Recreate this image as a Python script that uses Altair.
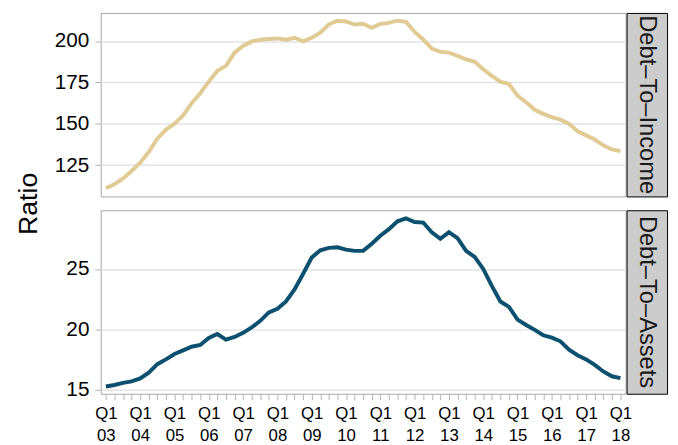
import altair as alt
import pandas as pd

# Quarter index: 0 = Q1 2003 ... 60 = Q1 2018
quarters = list(range(61))

debt_to_income = [
    111, 113.5, 117, 121.5, 126.5, 133, 141, 146.5, 150, 155,
    162.5, 168.5, 175.5, 182, 185, 193, 197, 199.8, 200.8, 201.3,
    201.6, 200.8, 202, 199.8, 202, 205, 210, 212.3, 211.8, 210,
    210.5, 208, 210.3, 211, 212.3, 211.6, 205.5, 201, 195.5, 193.5,
    193, 191, 189, 187.5, 183, 179, 175.5, 174, 167, 163,
    158.5, 156, 154, 152.5, 150, 145.5, 143, 140.5, 137, 134.5,
    133.5,
]

debt_to_assets = [
    15.25, 15.38, 15.55, 15.68, 15.92, 16.4, 17.1, 17.5, 17.95, 18.25,
    18.55, 18.7, 19.28, 19.6, 19.14, 19.36, 19.7, 20.15, 20.7, 21.4,
    21.7, 22.3, 23.3, 24.6, 25.95, 26.55, 26.75, 26.8, 26.6, 26.5,
    26.5, 27.1, 27.75, 28.3, 28.95, 29.2, 28.9, 28.85, 28.05, 27.5,
    28.05, 27.55, 26.5, 26.0, 25.0, 23.6, 22.3, 21.85, 20.8, 20.35,
    19.95, 19.5, 19.3, 19.0, 18.3, 17.85, 17.5, 17.05, 16.5, 16.1,
    15.95,
]

year_labels = ["03", "04", "05", "06", "07", "08", "09", "10",
               "11", "12", "13", "14", "15", "16", "17", "18"]

panel_labels = ["Debt\u2013To\u2013Income", "Debt\u2013To\u2013Assets"]
income_ticks = [125, 150, 175, 200]
assets_ticks = [15, 20, 25]

FONT = "Liberation Sans"
TAN = "#E1CB94"
TEAL = "#0B506E"
W, H = 532, 186

df_inc = pd.DataFrame({"q": quarters, "v": debt_to_income})
df_ast = pd.DataFrame({"q": quarters, "v": debt_to_assets})

x_scale = alt.Scale(domain=[-0.6, 60.6], nice=False, zero=False)
year_arr = "[" + ",".join("'%s'" % y for y in year_labels) + "]"
label_expr = "datum.value % 4 == 0 ? ['Q1', " + year_arr + "[datum.value / 4]] : ''"

panel_view = alt.ViewBackground(stroke="#a6a6a6", strokeWidth=1, fill="white")
strip_view = alt.ViewBackground(stroke="black", strokeWidth=1, fill="#cccccc")


def y_axis(values, **kw):
    return alt.Axis(
        values=values, domain=False, grid=True, gridColor="#e3e3e3", gridWidth=1.5,
        tickColor="#b3b3b3", tickSize=6, labelPadding=6, labelFont=FONT,
        labelFontSize=21, labelColor="black", **kw
    )


top = alt.Chart(df_inc).mark_line(color=TAN, strokeWidth=4).encode(
    x=alt.X("q:Q", scale=x_scale, axis=None),
    y=alt.Y(
        "v:Q",
        scale=alt.Scale(domain=[106.1, 217], nice=False, zero=False),
        axis=y_axis(
            income_ticks, title="Ratio", titleFont=FONT, titleFontSize=27,
            titleFontWeight="normal", titleColor="black", titleX=-65, titleY=193,
            titleBaseline="alphabetic", titleAngle=270,
        ),
    ),
).properties(width=W, height=H, view=panel_view)

bottom = alt.Chart(df_ast).mark_line(color=TEAL, strokeWidth=4).encode(
    x=alt.X(
        "q:Q", scale=x_scale,
        axis=alt.Axis(
            values=quarters, labelExpr=label_expr, domain=False, grid=False,
            tickColor="#b3b3b3", tickSize=6, labelPadding=6, labelFont=FONT,
            labelFontSize=17, labelColor="black", labelLineHeight=22,
            labelOverlap=False, labelFlush=False, labelBaseline="top", title=None,
        ),
    ),
    y=alt.Y(
        "v:Q",
        scale=alt.Scale(domain=[14.65, 29.87], nice=False, zero=False),
        axis=y_axis(assets_ticks, title=None),
    ),
).properties(width=W, height=H, view=panel_view)


def strip(label):
    return alt.Chart(pd.DataFrame({"label": [label]})).mark_text(
        angle=90, font=FONT, fontSize=24, color="#1a1a1a", align="center", baseline="middle"
    ).encode(
        text="label:N", x=alt.value(21), y=alt.value(H / 2)
    ).properties(width=41, height=H, view=strip_view)


chart = alt.concat(
    top, strip(panel_labels[0]), bottom, strip(panel_labels[1]),
    columns=2,
    spacing=alt.RowColnumber(row=14, column=1),
    bounds="flush",
    align="each",
).resolve_scale(
    y="independent", x="independent"
).properties(
    padding={"top": 1, "left": 6, "right": 2, "bottom": 2}
).configure(background="white")

chart.save("out.html", embed_options={"renderer": "svg", "actions": False})
